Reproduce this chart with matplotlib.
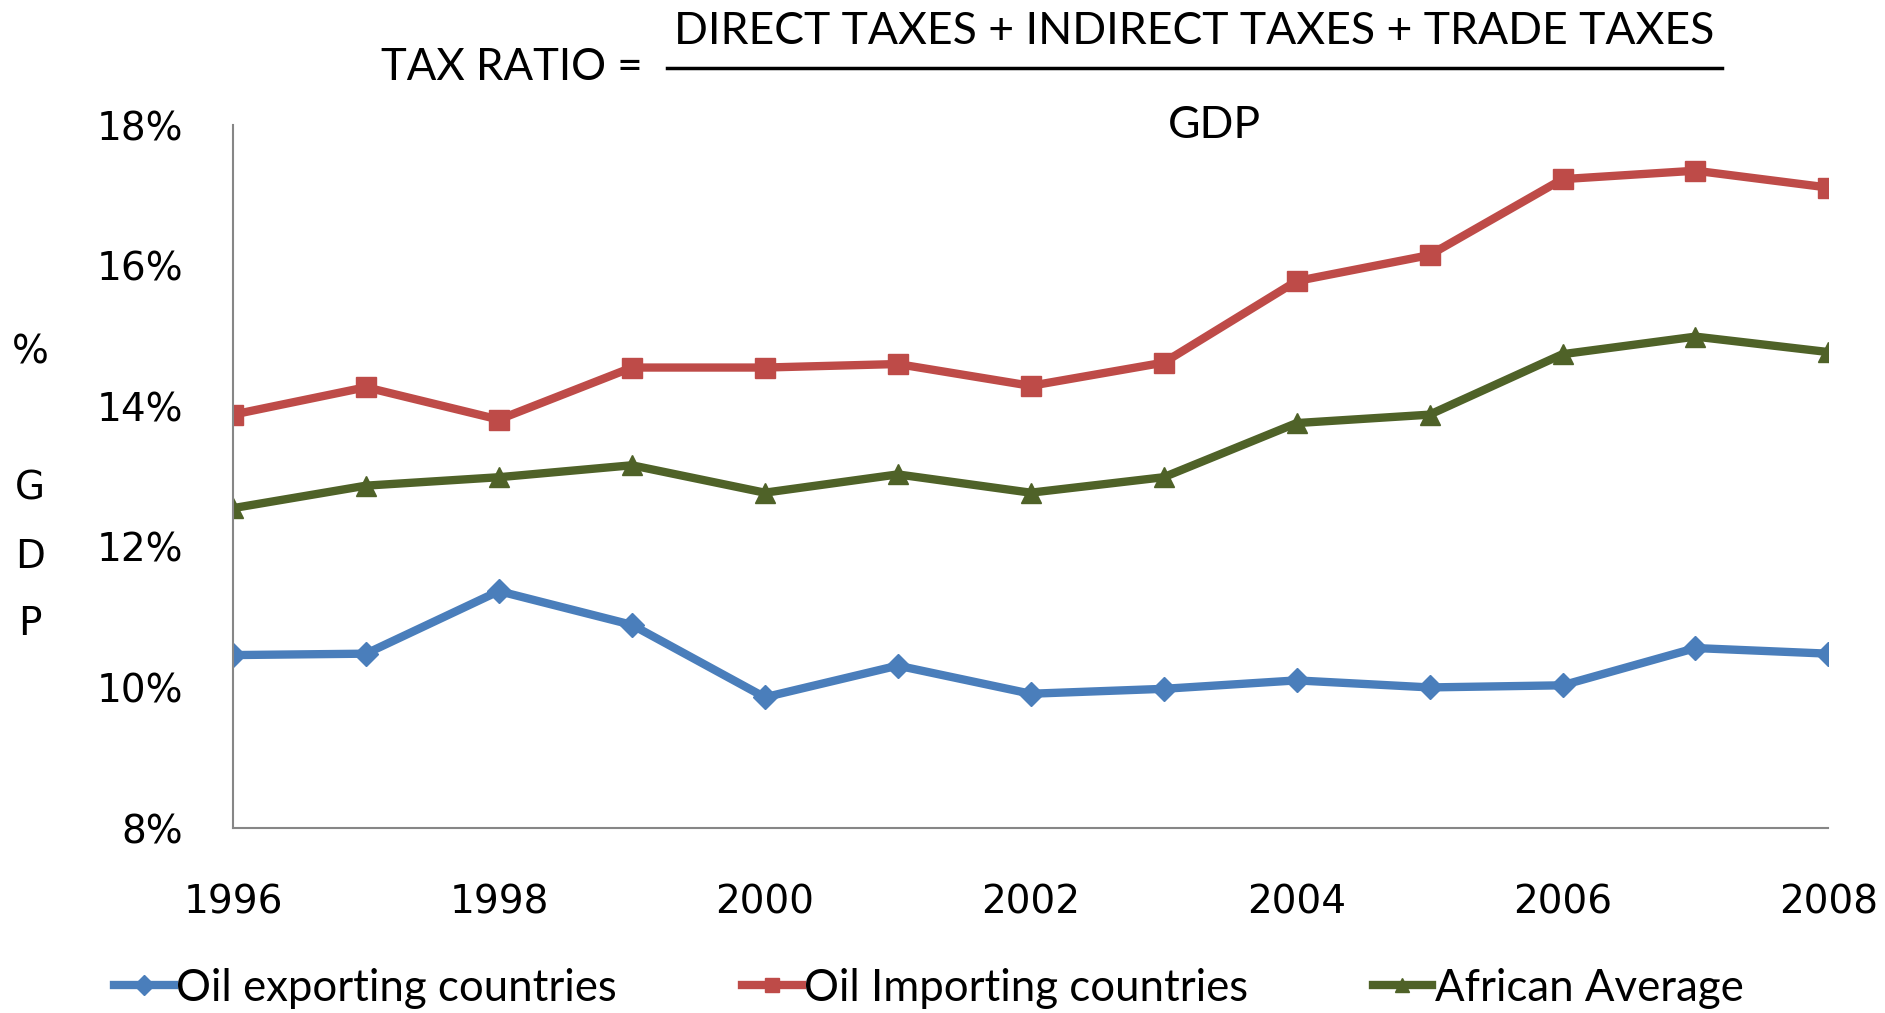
import matplotlib.pyplot as plt
from matplotlib.ticker import FuncFormatter

years = [1996, 1997, 1998, 1999, 2000, 2001, 2002, 2003, 2004, 2005, 2006, 2007, 2008]
oil_exporting = [10.46, 10.48, 11.37, 10.89, 9.86, 10.31, 9.91, 9.98, 10.10, 10.00, 10.03, 10.56, 10.48]
oil_importing = [13.88, 14.27, 13.81, 14.55, 14.55, 14.60, 14.29, 14.62, 15.78, 16.15, 17.23, 17.35, 17.11]
african_avg = [12.55, 12.87, 12.99, 13.16, 12.77, 13.03, 12.77, 12.99, 13.76, 13.88, 14.74, 14.99, 14.77]

series_names = ["Oil exporting countries", "Oil Importing countries", "African Average"]
y_ticks = [8, 10, 12, 14, 16, 18]
x_ticks = [1996, 1998, 2000, 2002, 2004, 2006, 2008]

blue = "#4A7EBB"
red = "#BE4B48"
green = "#4F6228"
text_font = "Lato"

fig = plt.figure(figsize=(18.85, 10.13), dpi=100)
ax = fig.add_axes([0.1236, 0.1826, 0.8464, 0.694])

ax.plot(years, oil_exporting, color=blue, lw=6, marker="D", ms=12, label=series_names[0])
ax.plot(years, oil_importing, color=red, lw=6, marker="s", ms=14, label=series_names[1])
ax.plot(years, african_avg, color=green, lw=6, marker="^", ms=15, label=series_names[2])

ax.set_xlim(1996, 2008)
ax.set_ylim(8, 18)
ax.set_yticks(y_ticks)
ax.set_xticks(x_ticks)
ax.yaxis.set_major_formatter(FuncFormatter(lambda v, p: f"{v:.0f}%"))
ax.tick_params(length=0, labelsize=28, pad=36)
ax.tick_params(axis="x", pad=40)
for s in ["top", "right"]:
    ax.spines[s].set_visible(False)
for s in ["left", "bottom"]:
    ax.spines[s].set_color("#868686")
    ax.spines[s].set_linewidth(1.5)
for lab in ax.get_xticklabels() + ax.get_yticklabels():
    lab.set_clip_on(False)

# y label, one letter per line
for ch, yy in zip(["%", "G", "D", "P"], [352, 489, 557, 624]):
    fig.text(30 / 1885, 1 - yy / 1013, ch, ha="center", va="center", fontsize=28)

# title as a fraction
fig.text(643 / 1885, 1 - 68 / 1013, "TAX RATIO =", ha="right", va="center",
         fontsize=31.5, family=text_font)
fig.text(1194 / 1885, 1 - 31 / 1013, "DIRECT TAXES + INDIRECT TAXES + TRADE TAXES",
         ha="center", va="center", fontsize=32, family=text_font)
fig.text(1214 / 1885, 1 - 125 / 1013, "GDP", ha="center", va="center",
         fontsize=32, family=text_font)
fig.add_artist(plt.Line2D([667 / 1885, 1722 / 1885], [1 - 68 / 1013, 1 - 68 / 1013],
                          color="black", lw=2.5, transform=fig.transFigure))

leg = fig.legend(loc="center left", bbox_to_anchor=(114 / 1885, 1 - 988 / 1013), ncol=3,
                 frameon=False, prop={"family": text_font, "size": 31.5},
                 handlelength=1.37, handletextpad=0.05, columnspacing=2.85,
                 borderaxespad=0, borderpad=0)
for h in leg.legend_handles:
    h.set_markersize(10)

fig.savefig("out.png", dpi=100)
